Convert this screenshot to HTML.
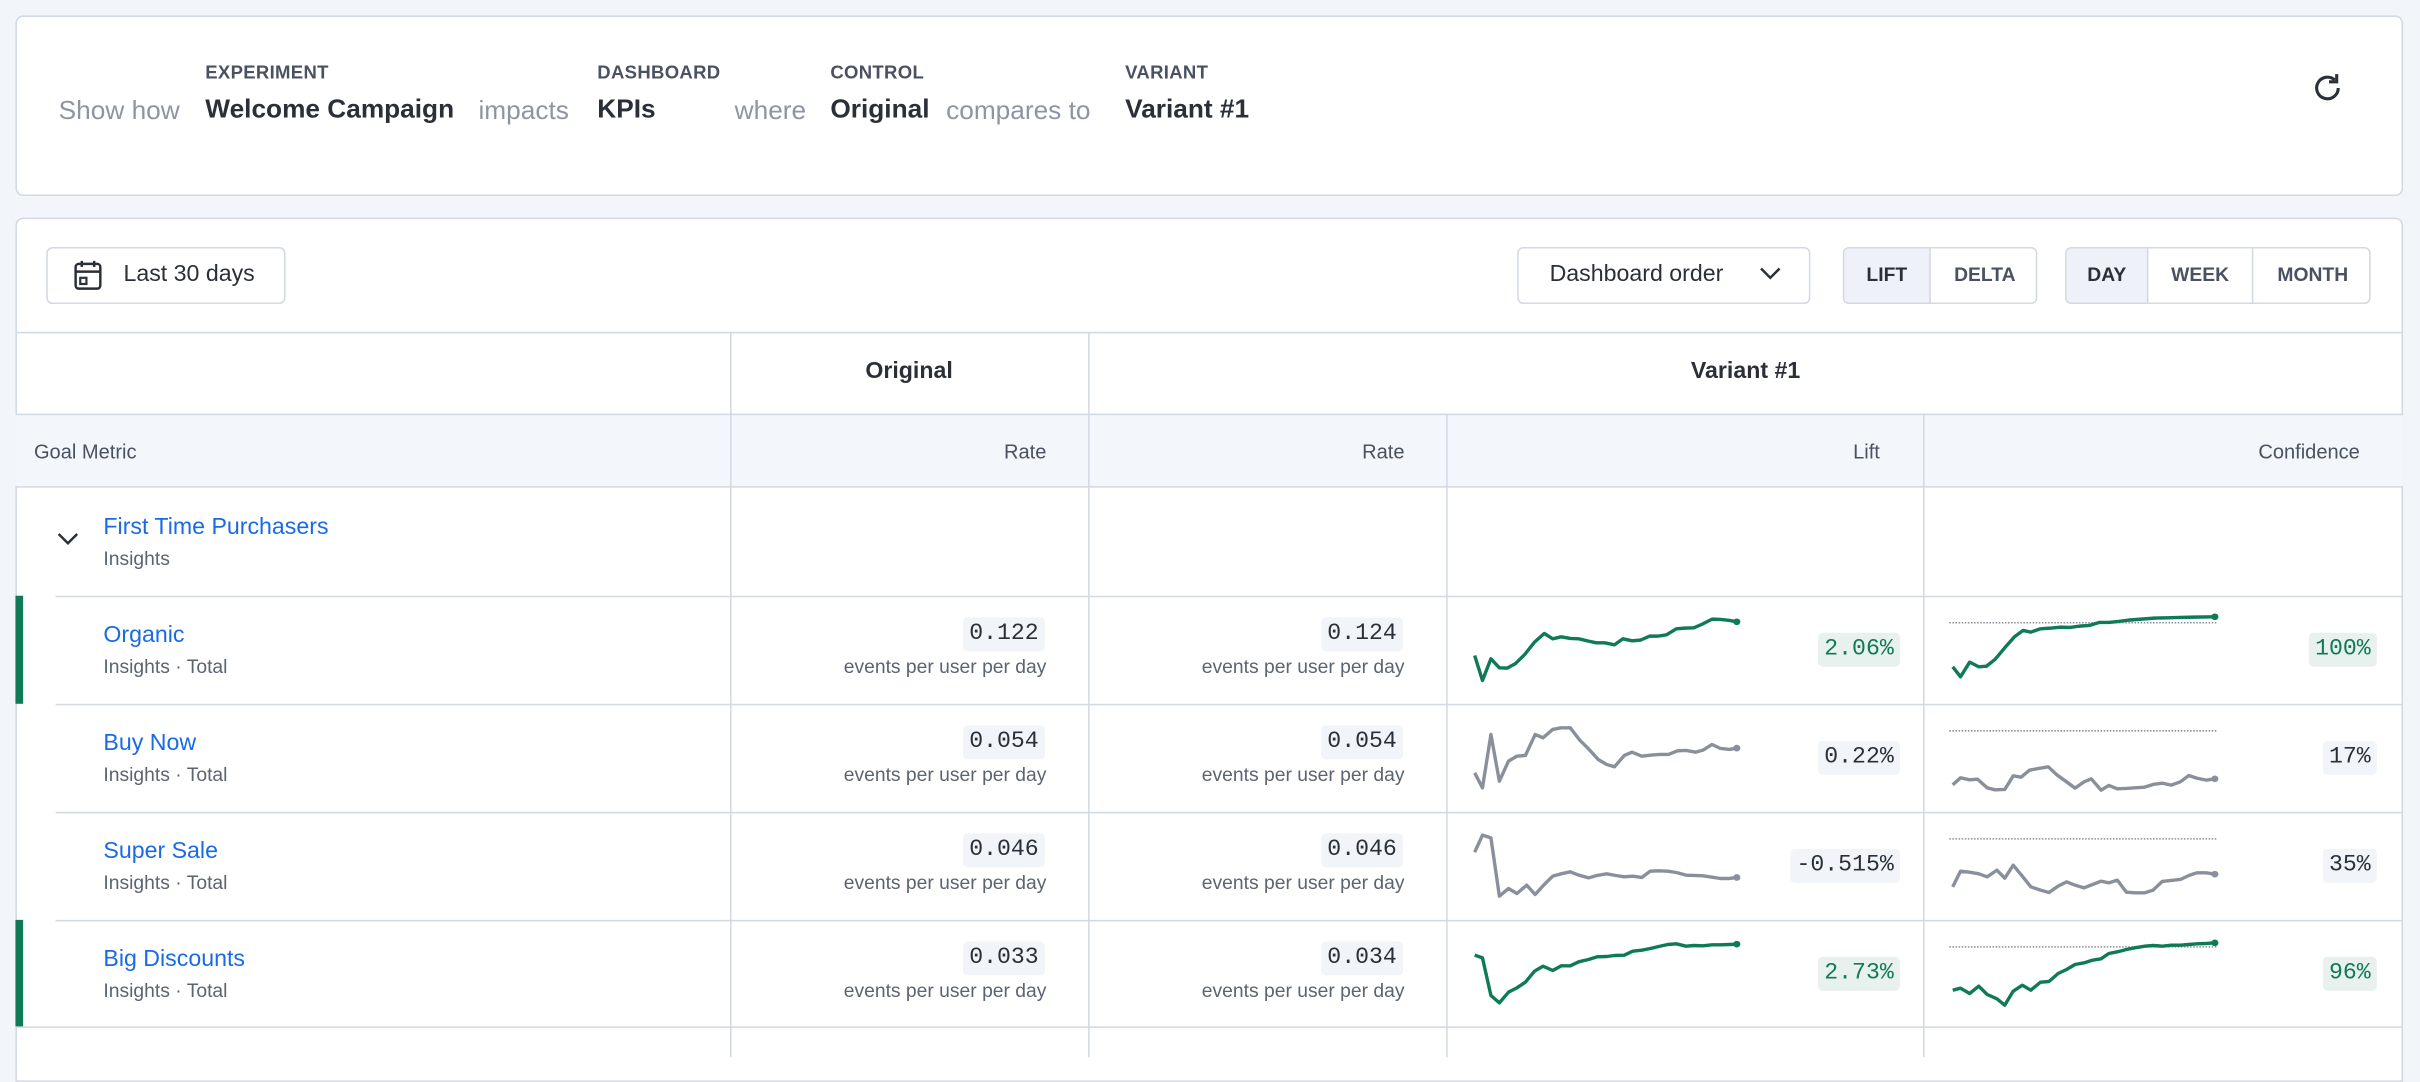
<!DOCTYPE html>
<html><head><meta charset="utf-8"><style>
*{margin:0;padding:0;box-sizing:border-box}
html,body{width:2420px;height:1050px;overflow:hidden;background:#f2f5fa}
#w{position:absolute;left:0;top:0;width:1568px;height:681px;transform:scale(1.5434);transform-origin:0 0;font-family:"Liberation Sans",sans-serif;color:#2b2f38}
.a{position:absolute;white-space:nowrap}
.card{position:absolute;background:#fff;border:1px solid #d3d9e3;border-radius:5px}
.lab{font-size:12px;font-weight:bold;color:#4a5160;letter-spacing:.2px}
.val{font-size:17px;font-weight:bold;color:#2b2f38}
.g{font-size:17px;color:#8d95a3}
.btn{position:absolute;border:1px solid #d3d9e3;border-radius:4px;background:#fff;font-size:15px}
.hl{position:absolute;height:1px;background:#d3d9e3}
.vl{position:absolute;width:1px;background:#d3d9e3}
.nm{font-size:15px;color:#1a6ae6}
.sub{font-size:12.5px;color:#5c6470}
.pill{position:absolute;font-family:"Liberation Mono",monospace;font-size:15px;padding:2px 4px;border-radius:3px;background:#f1f4f8;color:#2b2f38;line-height:18px}
.gp{background:#e8f1ed;color:#0f7a55}
.ep{position:absolute;font-size:12.5px;color:#5c6470;text-align:right;width:200px}
.dot{position:absolute;height:0;border-top:1px dotted #8a909b}
.seg{position:absolute;font-size:12.5px;font-weight:bold;color:#4a5160;text-align:center;line-height:36px;border-right:1px solid #d3d9e3;height:36px;top:-1px}
</style></head><body><div id="w">
<div class="card" style="left:10px;top:10px;width:1547px;height:117px"></div>
<div class="a lab" style="left:133px;top:40px">EXPERIMENT</div>
<div class="a lab" style="left:387px;top:40px">DASHBOARD</div>
<div class="a lab" style="left:538px;top:40px">CONTROL</div>
<div class="a lab" style="left:729px;top:40px">VARIANT</div>
<div class="a g" style="left:38px;top:62px">Show how</div>
<div class="a val" style="left:133px;top:61px">Welcome Campaign</div>
<div class="a g" style="left:310px;top:62px">impacts</div>
<div class="a val" style="left:387px;top:61px">KPIs</div>
<div class="a g" style="left:476px;top:62px">where</div>
<div class="a val" style="left:538px;top:61px">Original</div>
<div class="a g" style="left:613px;top:62px">compares to</div>
<div class="a val" style="left:729px;top:61px">Variant #1</div>
<svg class="a" style="left:1497px;top:46px" width="22" height="22" viewBox="0 0 22 22"><path d="M18 11a7 7 0 1 1-2.3-5.2" fill="none" stroke="#2b2f38" stroke-width="2"/><path d="M17 2v5h-5" fill="none" stroke="#2b2f38" stroke-width="2"/></svg>

<div class="card" style="left:10px;top:141px;width:1547px;height:560px;border-radius:5px 5px 0 0"></div>
<div class="btn" style="left:30px;top:160px;width:155px;height:37px"></div>
<svg class="a" style="left:47px;top:168px" width="20" height="21" viewBox="0 0 20 21"><rect x="2" y="3" width="16" height="16" rx="2" fill="none" stroke="#2b2f38" stroke-width="1.6"/><path d="M2 8h16M6 1v4M14 1v4" stroke="#2b2f38" stroke-width="1.6"/><rect x="5" y="12" width="4" height="4" fill="none" stroke="#2b2f38" stroke-width="1.4"/></svg>
<div class="a" style="left:80px;top:169px;font-size:15px">Last 30 days</div>
<div class="btn" style="left:983px;top:160px;width:190px;height:37px"></div>
<div class="a" style="left:1004px;top:169px;font-size:15px">Dashboard order</div>
<svg class="a" style="left:1139px;top:172px" width="16" height="10"><path d="M2 2l6 6 6-6" fill="none" stroke="#2b2f38" stroke-width="1.6"/></svg>
<div class="btn" style="left:1194px;top:160px;width:126px;height:37px;overflow:hidden">
<div class="seg" style="left:0;width:56px;background:#eef2f8;color:#2b2f38">LIFT</div>
<div class="seg" style="left:56px;width:70px;border-right:none">DELTA</div></div>
<div class="btn" style="left:1338px;top:160px;width:198px;height:37px;overflow:hidden">
<div class="seg" style="left:0;width:53px;background:#eef2f8;color:#2b2f38">DAY</div>
<div class="seg" style="left:53px;width:68px">WEEK</div>
<div class="seg" style="left:121px;width:77px;border-right:none">MONTH</div></div>

<div class="hl" style="left:10px;top:215px;width:1547px"></div>
<div class="a" style="left:10px;top:268px;width:1547px;height:47px;background:#f3f6fa"></div>
<div class="hl" style="left:10px;top:268px;width:1547px"></div>
<div class="hl" style="left:10px;top:315px;width:1547px"></div>
<div class="hl" style="left:36px;top:386px;width:1521px"></div>
<div class="hl" style="left:36px;top:456px;width:1521px"></div>
<div class="hl" style="left:36px;top:526px;width:1521px"></div>
<div class="hl" style="left:36px;top:596px;width:1521px"></div>
<div class="hl" style="left:10px;top:665px;width:1547px"></div>
<div class="vl" style="left:473px;top:215px;height:470px"></div>
<div class="vl" style="left:705px;top:215px;height:470px"></div>
<div class="vl" style="left:937px;top:268px;height:417px"></div>
<div class="vl" style="left:1246px;top:268px;height:417px"></div>
<div class="a" style="left:10px;top:386px;width:5px;height:70px;background:#0f7a55"></div>
<div class="a" style="left:10px;top:596px;width:5px;height:69px;background:#0f7a55"></div>

<div class="a" style="left:473px;width:232px;top:232px;text-align:center;font-size:15px;font-weight:bold">Original</div>
<div class="a" style="left:705px;width:852px;top:232px;text-align:center;font-size:15px;font-weight:bold">Variant #1</div>
<div class="a" style="left:22px;top:285px;font-size:13px;color:#4a5160">Goal Metric</div>
<div class="a" style="left:473px;width:205px;top:285px;text-align:right;font-size:13px;color:#4a5160">Rate</div>
<div class="a" style="left:705px;width:205px;top:285px;text-align:right;font-size:13px;color:#4a5160">Rate</div>
<div class="a" style="left:937px;width:281px;top:285px;text-align:right;font-size:13px;color:#4a5160">Lift</div>
<div class="a" style="left:1246px;width:283px;top:285px;text-align:right;font-size:13px;color:#4a5160">Confidence</div>

<svg class="a" style="left:36px;top:344px" width="16" height="10"><path d="M2 2l6 6 6-6" fill="none" stroke="#2b2f38" stroke-width="1.6"/></svg>
<div class="a nm" style="left:67px;top:333px">First Time Purchasers</div>
<div class="a sub" style="left:67px;top:355px">Insights</div>

<div class="a nm" style="left:67px;top:403px">Organic</div><div class="a sub" style="left:67px;top:425px">Insights · Total</div>
<div class="a nm" style="left:67px;top:473px">Buy Now</div><div class="a sub" style="left:67px;top:495px">Insights · Total</div>
<div class="a nm" style="left:67px;top:543px">Super Sale</div><div class="a sub" style="left:67px;top:565px">Insights · Total</div>
<div class="a nm" style="left:67px;top:613px">Big Discounts</div><div class="a sub" style="left:67px;top:635px">Insights · Total</div>

<div class="pill" style="right:891px;top:400px">0.122</div><div class="ep" style="left:478px;top:425px">events per user per day</div>
<div class="pill" style="right:659px;top:400px">0.124</div><div class="ep" style="left:710px;top:425px">events per user per day</div>
<div class="pill" style="right:891px;top:470px">0.054</div><div class="ep" style="left:478px;top:495px">events per user per day</div>
<div class="pill" style="right:659px;top:470px">0.054</div><div class="ep" style="left:710px;top:495px">events per user per day</div>
<div class="pill" style="right:891px;top:540px">0.046</div><div class="ep" style="left:478px;top:565px">events per user per day</div>
<div class="pill" style="right:659px;top:540px">0.046</div><div class="ep" style="left:710px;top:565px">events per user per day</div>
<div class="pill" style="right:891px;top:610px">0.033</div><div class="ep" style="left:478px;top:635px">events per user per day</div>
<div class="pill" style="right:659px;top:610px">0.034</div><div class="ep" style="left:710px;top:635px">events per user per day</div>

<div class="pill gp" style="right:337px;top:410px">2.06%</div>
<div class="pill gp" style="right:28px;top:410px">100%</div>
<div class="pill" style="right:337px;top:480px">0.22%</div>
<div class="pill" style="right:28px;top:480px">17%</div>
<div class="pill" style="right:337px;top:550px">-0.515%</div>
<div class="pill" style="right:28px;top:550px">35%</div>
<div class="pill gp" style="right:337px;top:620px">2.73%</div>
<div class="pill gp" style="right:28px;top:620px">96%</div>

<div class="dot" style="left:1263px;width:173px;top:402.5px"></div>
<div class="dot" style="left:1263px;width:173px;top:473px"></div>
<div class="dot" style="left:1263px;width:173px;top:542.5px"></div>
<div class="dot" style="left:1263px;width:173px;top:612.5px"></div>

<svg class="a" style="left:907.1px;top:356.4px" width="660.8" height="324" viewBox="0 0 1568 1500" preserveAspectRatio="none">
<g fill="none" stroke-width="2.2" vector-effect="non-scaling-stroke" stroke-linejoin="round">
<polyline vector-effect="non-scaling-stroke" stroke="#0f7a55" points="115,318 127,393 140,328 153,355 165,356 178,342 192,315 207,278 222,252 235,268 248,262 262,267 275,268 290,275 302,280 315,280 330,286 343,268 357,274 370,272 384,260 397,260 410,256 425,238 438,236 452,235 465,224 480,209 493,210 507,213 518,217"/>
<polyline vector-effect="non-scaling-stroke" stroke="#0f7a55" points="850,352 862,382 876,338 890,352 902,350 915,330 930,295 945,262 958,243 970,248 985,238 1000,236 1015,233 1030,234 1045,230 1060,228 1075,219 1090,219 1105,216 1120,212 1140,209 1160,206 1180,205 1200,204 1220,203 1253,202"/>
<polyline vector-effect="non-scaling-stroke" stroke="#8a909b" points="115,670 127,715 140,555 153,695 167,635 180,620 193,618 208,555 220,565 235,540 248,535 262,535 277,573 290,598 305,630 318,645 330,652 345,618 357,608 372,620 385,617 400,615 413,615 427,604 440,603 455,608 466,602 480,585 493,597 507,600 518,596"/>
<polyline vector-effect="non-scaling-stroke" stroke="#8a909b" points="850,706 862,685 876,691 888,689 903,715 915,721 930,720 943,679 955,683 968,662 982,657 997,652 1010,676 1025,697 1038,716 1052,697 1063,688 1078,722 1090,708 1103,718 1117,717 1130,715 1145,713 1158,705 1172,701 1186,707 1200,697 1213,678 1225,686 1240,692 1253,688"/>
<polyline vector-effect="non-scaling-stroke" stroke="#8a909b" points="115,908 127,857 140,865 153,1040 167,1017 180,1032 195,1007 208,1035 222,1005 235,980 248,973 262,967 275,977 290,985 303,978 318,973 332,978 345,982 358,980 372,984 385,965 398,964 412,965 425,969 440,977 452,978 466,979 480,983 493,987 507,987 518,984"/>
<polyline vector-effect="non-scaling-stroke" stroke="#8a909b" points="850,1012 862,965 876,968 890,973 903,982 918,962 930,986 943,947 957,980 970,1012 985,1022 998,1029 1012,1010 1025,997 1038,1007 1052,1015 1065,1005 1078,995 1090,1000 1103,992 1117,1028 1130,1030 1145,1030 1158,1022 1172,996 1186,993 1200,990 1213,978 1225,970 1240,970 1253,974"/>
<polyline vector-effect="non-scaling-stroke" stroke="#0f7a55" points="115,1217 127,1225 140,1338 153,1360 167,1328 180,1315 193,1298 207,1265 220,1250 235,1263 248,1249 262,1249 275,1237 290,1230 303,1222 318,1221 330,1218 345,1217 358,1205 372,1202 385,1197 398,1191 412,1185 425,1183 440,1190 452,1188 466,1189 480,1186 493,1186 507,1185 518,1184"/>
<polyline vector-effect="non-scaling-stroke" stroke="#0f7a55" points="850,1322 862,1316 876,1332 890,1310 903,1335 918,1348 930,1367 943,1325 957,1307 970,1322 985,1298 998,1296 1012,1272 1025,1260 1038,1245 1052,1240 1065,1232 1078,1228 1090,1212 1103,1207 1117,1200 1130,1195 1145,1190 1158,1188 1172,1190 1186,1187 1200,1187 1213,1185 1225,1183 1240,1182 1253,1180"/>
</g>
<g stroke="none">
<ellipse cx="518" cy="217" rx="5.5" ry="10" fill="#0f7a55"/><ellipse cx="1253" cy="202" rx="5.5" ry="10" fill="#0f7a55"/>
<ellipse cx="518" cy="596" rx="5.5" ry="10" fill="#8a909b"/><ellipse cx="1253" cy="688" rx="5.5" ry="10" fill="#8a909b"/>
<ellipse cx="518" cy="984" rx="5.5" ry="10" fill="#8a909b"/><ellipse cx="1253" cy="974" rx="5.5" ry="10" fill="#8a909b"/>
<ellipse cx="518" cy="1184" rx="5.5" ry="10" fill="#0f7a55"/><ellipse cx="1253" cy="1180" rx="5.5" ry="10" fill="#0f7a55"/>
</g></svg>
</div></body></html>
